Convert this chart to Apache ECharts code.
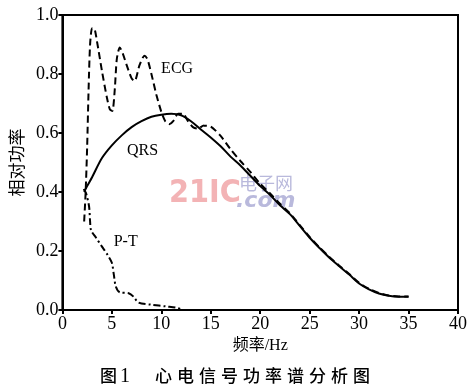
<!DOCTYPE html>
<html>
<head>
<meta charset="utf-8">
<script src="https://cdn.jsdelivr.net/npm/echarts@6/dist/echarts.min.js"></script>
<style>
  html, body { margin: 0; padding: 0; background: #fff; }
  #main { width: 470px; height: 388px; }
</style>
</head>
<body>
<div id="main"></div>
<script>
var xTicks = [0, 5, 10, 15, 20, 25, 30, 35, 40];
var yTicks = [0.0, 0.2, 0.4, 0.6, 0.8, 1.0];

// QRS 功率谱 (实线)
var qrsHz = [2.2, 2.5, 3, 4, 5, 6, 7, 8, 9, 10, 11, 12, 13, 14, 15, 16, 17, 18, 19, 20,
  21, 22, 23, 24, 25, 26, 27, 28, 29, 30, 31, 32, 33, 34, 35];
var qrsPower = [0.40, 0.42, 0.45, 0.515, 0.558, 0.592, 0.62, 0.64, 0.655, 0.662, 0.665, 0.66,
  0.64, 0.612, 0.585, 0.555, 0.52, 0.49, 0.455, 0.42, 0.39, 0.355, 0.325, 0.285, 0.245,
  0.21, 0.177, 0.148, 0.12, 0.09, 0.07, 0.056, 0.048, 0.045, 0.045];

// ECG 功率谱 (虚线)
var ecgHz = [2.2, 2.35, 2.5, 2.65, 2.8, 3.0, 3.2, 3.5, 4.0, 4.5, 4.8, 5.05, 5.3, 5.5, 5.8,
  6.1, 6.5, 7.0, 7.3, 7.8, 8.3, 8.6, 9.0, 9.5, 10.0, 10.4, 10.8, 11.2, 11.7, 12.2, 12.7,
  13.2, 13.7, 14.3, 15.0, 16, 17, 18, 19, 20, 21, 22, 23, 24, 25, 26, 27, 28, 29, 30, 31,
  32, 33, 34, 35];
var ecgPower = [0.30, 0.40, 0.55, 0.75, 0.90, 0.955, 0.955, 0.91, 0.81, 0.72, 0.68, 0.675,
  0.75, 0.85, 0.89, 0.87, 0.83, 0.785, 0.776, 0.83, 0.862, 0.85, 0.80, 0.73, 0.672, 0.64,
  0.63, 0.64, 0.665, 0.665, 0.64, 0.62, 0.615, 0.625, 0.622, 0.59, 0.545, 0.505, 0.468,
  0.428, 0.395, 0.36, 0.328, 0.288, 0.248, 0.212, 0.18, 0.15, 0.122, 0.092, 0.072, 0.058,
  0.049, 0.046, 0.046];

// P-T 功率谱 (点划线)
var ptHz = [2.15, 2.4, 2.7, 2.8, 2.9, 3.4, 4.0, 4.6, 5.0, 5.2, 5.4, 5.8, 6.7, 7.2, 7.7,
  9.0, 10.5, 11.5, 12.0];
var ptPower = [0.41, 0.395, 0.35, 0.30, 0.27, 0.245, 0.215, 0.185, 0.16, 0.12, 0.08, 0.06,
  0.057, 0.045, 0.025, 0.018, 0.012, 0.008, 0.002];

var titleChars = ['图', '1', '心', '电', '信', '号', '功', '率', '谱', '分', '析', '图'];
var titleX = [100, 120, 155, 177, 199, 221, 243, 265, 287, 309, 331, 353];

function pairs(xs, ys) {
  return xs.map(function (x, i) { return [x, ys[i]]; });
}

var chartDom = document.getElementById('main');
var myChart = echarts.init(chartDom);
var option;

var serif = 'Liberation Serif';
var mixed = "'Liberation Serif', 'Noto Sans CJK SC'";
var cjk = 'Noto Sans CJK SC';

var tagLabel = function (text) {
  return {
    show: true,
    formatter: text,
    color: '#000',
    fontFamily: serif,
    fontSize: 16
  };
};

var graphics = titleChars.map(function (c, i) {
  return {
    type: 'text',
    x: titleX[i],
    y: 367,
    style: {
      text: c,
      fill: '#000',
      fontFamily: c === '1' ? serif : cjk,
      fontSize: c === '1' ? 20 : 17,
      fontWeight: 500
    }
  };
});
graphics.push(
  { type: 'text', x: 169, y: 178, z: -1,
    style: { text: '21IC', fill: '#f3b3b5', fontFamily: 'DejaVu Sans Condensed', fontWeight: 'bold', fontSize: 32 } },
  { type: 'text', x: 239, y: 174, z: -1,
    style: { text: '电子网', fill: '#b9b9dc', fontFamily: cjk, fontSize: 18 } },
  { type: 'text', x: 236, y: 190, z: -1,
    style: { text: '.com', fill: '#b9b9dc', fontFamily: 'DejaVu Sans', fontStyle: 'italic', fontWeight: 'bold', fontSize: 22 } }
);

option = {
  backgroundColor: '#fff',
  animation: false,
  grid: {
    left: 60,
    right: 10,
    top: 15,
    bottom: 78,
    show: true,
    borderColor: '#000',
    borderWidth: 2
  },
  xAxis: {
    type: 'value',
    min: 0,
    max: 40,
    interval: 5,
    name: '频率/Hz',
    nameLocation: 'middle',
    nameGap: 28,
    nameTextStyle: { color: '#000', fontFamily: mixed, fontSize: 16 },
    axisLine: { lineStyle: { color: '#000', width: 2 } },
    axisTick: { show: true, length: 4, lineStyle: { color: '#000', width: 2 } },
    axisLabel: {
      color: '#000', fontFamily: serif, fontSize: 18, margin: 5,
      formatter: function (v) { return xTicks.indexOf(v) >= 0 ? String(v) : ''; }
    },
    splitLine: { show: false }
  },
  yAxis: {
    type: 'value',
    min: 0,
    max: 1,
    interval: 0.2,
    name: '相对功率',
    nameLocation: 'middle',
    nameGap: 34,
    nameTextStyle: { color: '#000', fontFamily: cjk, fontSize: 17 },
    axisLine: { show: true, lineStyle: { color: '#000', width: 2 } },
    axisTick: { show: true, length: 4, lineStyle: { color: '#000', width: 2 } },
    axisLabel: {
      color: '#000', fontFamily: serif, fontSize: 18, margin: 4,
      formatter: function (v) {
        var t = yTicks.find(function (y) { return Math.abs(y - v) < 1e-6; });
        return t === undefined ? '' : t.toFixed(1);
      }
    },
    splitLine: { show: false }
  },
  series: [
    {
      name: 'QRS',
      type: 'line',
      data: pairs(qrsHz, qrsPower),
      smooth: 0.3,
      showSymbol: false,
      lineStyle: { color: '#000', width: 2 },
      markPoint: {
        symbolSize: 0,
        data: [{ coord: [8.1, 0.54], label: tagLabel('QRS') }]
      }
    },
    {
      name: 'ECG',
      type: 'line',
      data: pairs(ecgHz, ecgPower),
      smooth: 0.25,
      showSymbol: false,
      lineStyle: { color: '#000', width: 2, type: [7, 4] },
      markPoint: {
        symbolSize: 0,
        data: [{ coord: [11.6, 0.817], label: tagLabel('ECG') }]
      }
    },
    {
      name: 'P-T',
      type: 'line',
      data: pairs(ptHz, ptPower),
      smooth: 0.3,
      showSymbol: false,
      lineStyle: { color: '#000', width: 2, type: [7, 3, 2, 3] },
      markPoint: {
        symbolSize: 0,
        data: [{ coord: [6.4, 0.23], label: tagLabel('P-T') }]
      }
    }
  ],
  graphic: graphics
};

option && myChart.setOption(option);
</script>
</body>
</html>
